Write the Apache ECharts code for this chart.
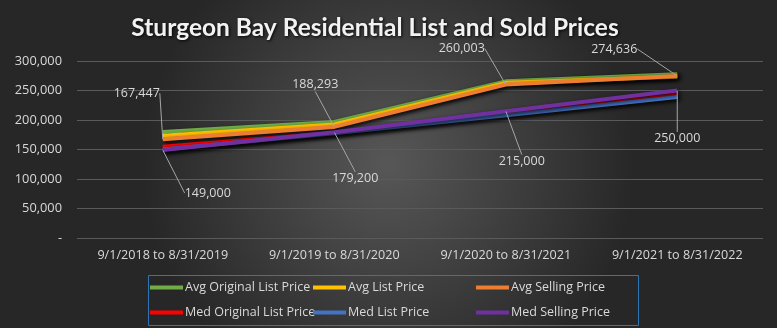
<!DOCTYPE html>
<html><head><meta charset="utf-8">
<script src="https://cdn.jsdelivr.net/npm/echarts@6/dist/echarts.min.js"></script>
<style>html,body{margin:0;padding:0;background:#2b2b2b;}#c{width:777px;height:328px;}</style>
</head><body><div id="c"></div>
<script>
const categories = ['9/1/2018 to 8/31/2019','9/1/2019 to 8/31/2020','9/1/2020 to 8/31/2021','9/1/2021 to 8/31/2022'];
const avgOriginalList = [179500, 196500, 265500, 277500];
const avgList = [173500, 192500, 263000, 273500];
const avgSelling = [167447, 188293, 260003, 274636];
const medOriginalList = [154500, 178000, 209000, 242500];
const medList = [150000, 177500, 208000, 239000];
const medSelling = [149000, 179200, 215000, 250000];
const yTicks = [0, 50000, 100000, 150000, 200000, 250000, 300000];
const legendCols = [
  ['Avg Original List Price', 'Med Original List Price'],
  ['Avg List Price', 'Med List Price'],
  ['Avg Selling Price', 'Med Selling Price']
];

// label offsets (px) from each point for the labelled series
const avgLabelOffsets = [[-26,-46],[-19,-42],[-44,-36],[-63,-27]];
const medLabelOffsets = [[45,43],[21,46],[16,50],[0,48]];

const fmt = v => v === 0 ? '-' : v.toLocaleString('en-US');

function series(name, data, color, offsets) {
  const s = {
    name, type: 'line', data, symbol: 'circle', symbolSize: 0.5, showSymbol: true, smooth: false,
    lineStyle: { width: 4, color, shadowColor: 'rgba(0,0,0,0.85)', shadowBlur: 4, shadowOffsetX: 2, shadowOffsetY: 2 },
    itemStyle: { color, borderWidth: 0 },
    emphasis: { disabled: true }
  };
  if (offsets) {
    s.label = { show: true, position: 'inside', color: '#d9d9d9', fontSize: 12.5,
      fontFamily: 'Open Sans', formatter: p => fmt(p.value) };
    s.labelLine = { show: true, lineStyle: { color: '#a6a6a6', width: 1, opacity: 1 } };
    s.labelLayout = p => ({ dx: offsets[p.dataIndex][0], dy: offsets[p.dataIndex][1], hideOverlap: false });
  }
  return s;
}

const legendLeft = [150, 313, 476];
const legends = legendCols.map((names, i) => ({
  left: legendLeft[i], top: 280, orient: 'vertical',
  itemWidth: 33, itemHeight: 4, itemGap: 10, padding: 0,
  icon: 'rect',
  textStyle: { color: '#d9d9d9', fontSize: 12.5, fontFamily: 'Open Sans', lineHeight: 15, padding: [0,0,0,-3] },
  data: names
}));

const chart = echarts.init(document.getElementById('c'), null, { renderer: 'canvas' });
chart.setOption({
  animation: false,
  backgroundColor: {
    type: 'radial', x: 0.5, y: 0.5, r: 0.75,
    colorStops: [{ offset: 0, color: '#575757' }, { offset: 1, color: '#272727' }]
  },
  title: {
    text: 'Sturgeon Bay Residential List and Sold Prices',
    left: 370, top: 11, textAlign: 'center',
    textStyle: { color: '#f2f2f2', fontSize: 24.5, fontWeight: 'bold', fontFamily: 'Lato',
      textShadowColor: 'rgba(0,0,0,0.9)', textShadowBlur: 3, textShadowOffsetX: 1, textShadowOffsetY: 1 }
  },
  grid: { left: 77, right: 14, top: 61, bottom: 90, containLabel: false },
  xAxis: {
    type: 'category', data: categories, boundaryGap: true,
    axisLine: { show: false }, axisTick: { show: false },
    axisLabel: { color: '#d9d9d9', fontSize: 12.6, fontFamily: 'Open Sans', margin: 11 }
  },
  yAxis: {
    type: 'value', min: yTicks[0], max: yTicks[yTicks.length - 1], interval: 50000,
    axisLine: { show: false }, axisTick: { show: false },
    splitLine: { lineStyle: { color: '#5a5a5a', width: 1 } },
    axisLabel: { color: '#d9d9d9', fontSize: 12.8, fontFamily: 'Open Sans', margin: 15, formatter: fmt }
  },
  legend: legends,
  graphic: [{
    type: 'rect', left: 146, top: 273, shape: { width: 490, height: 50 },
    style: { fill: 'none', stroke: '#2e75b6', lineWidth: 1 }, silent: true
  }],
  series: [
    series('Avg Original List Price', avgOriginalList, '#70ad47'),
    series('Avg List Price', avgList, '#ffc000'),
    series('Avg Selling Price', avgSelling, '#ed7d31', avgLabelOffsets),
    series('Med Original List Price', medOriginalList, '#ff0000'),
    series('Med List Price', medList, '#4472c4'),
    series('Med Selling Price', medSelling, '#7030a0', medLabelOffsets)
  ]
});
</script></body></html>
